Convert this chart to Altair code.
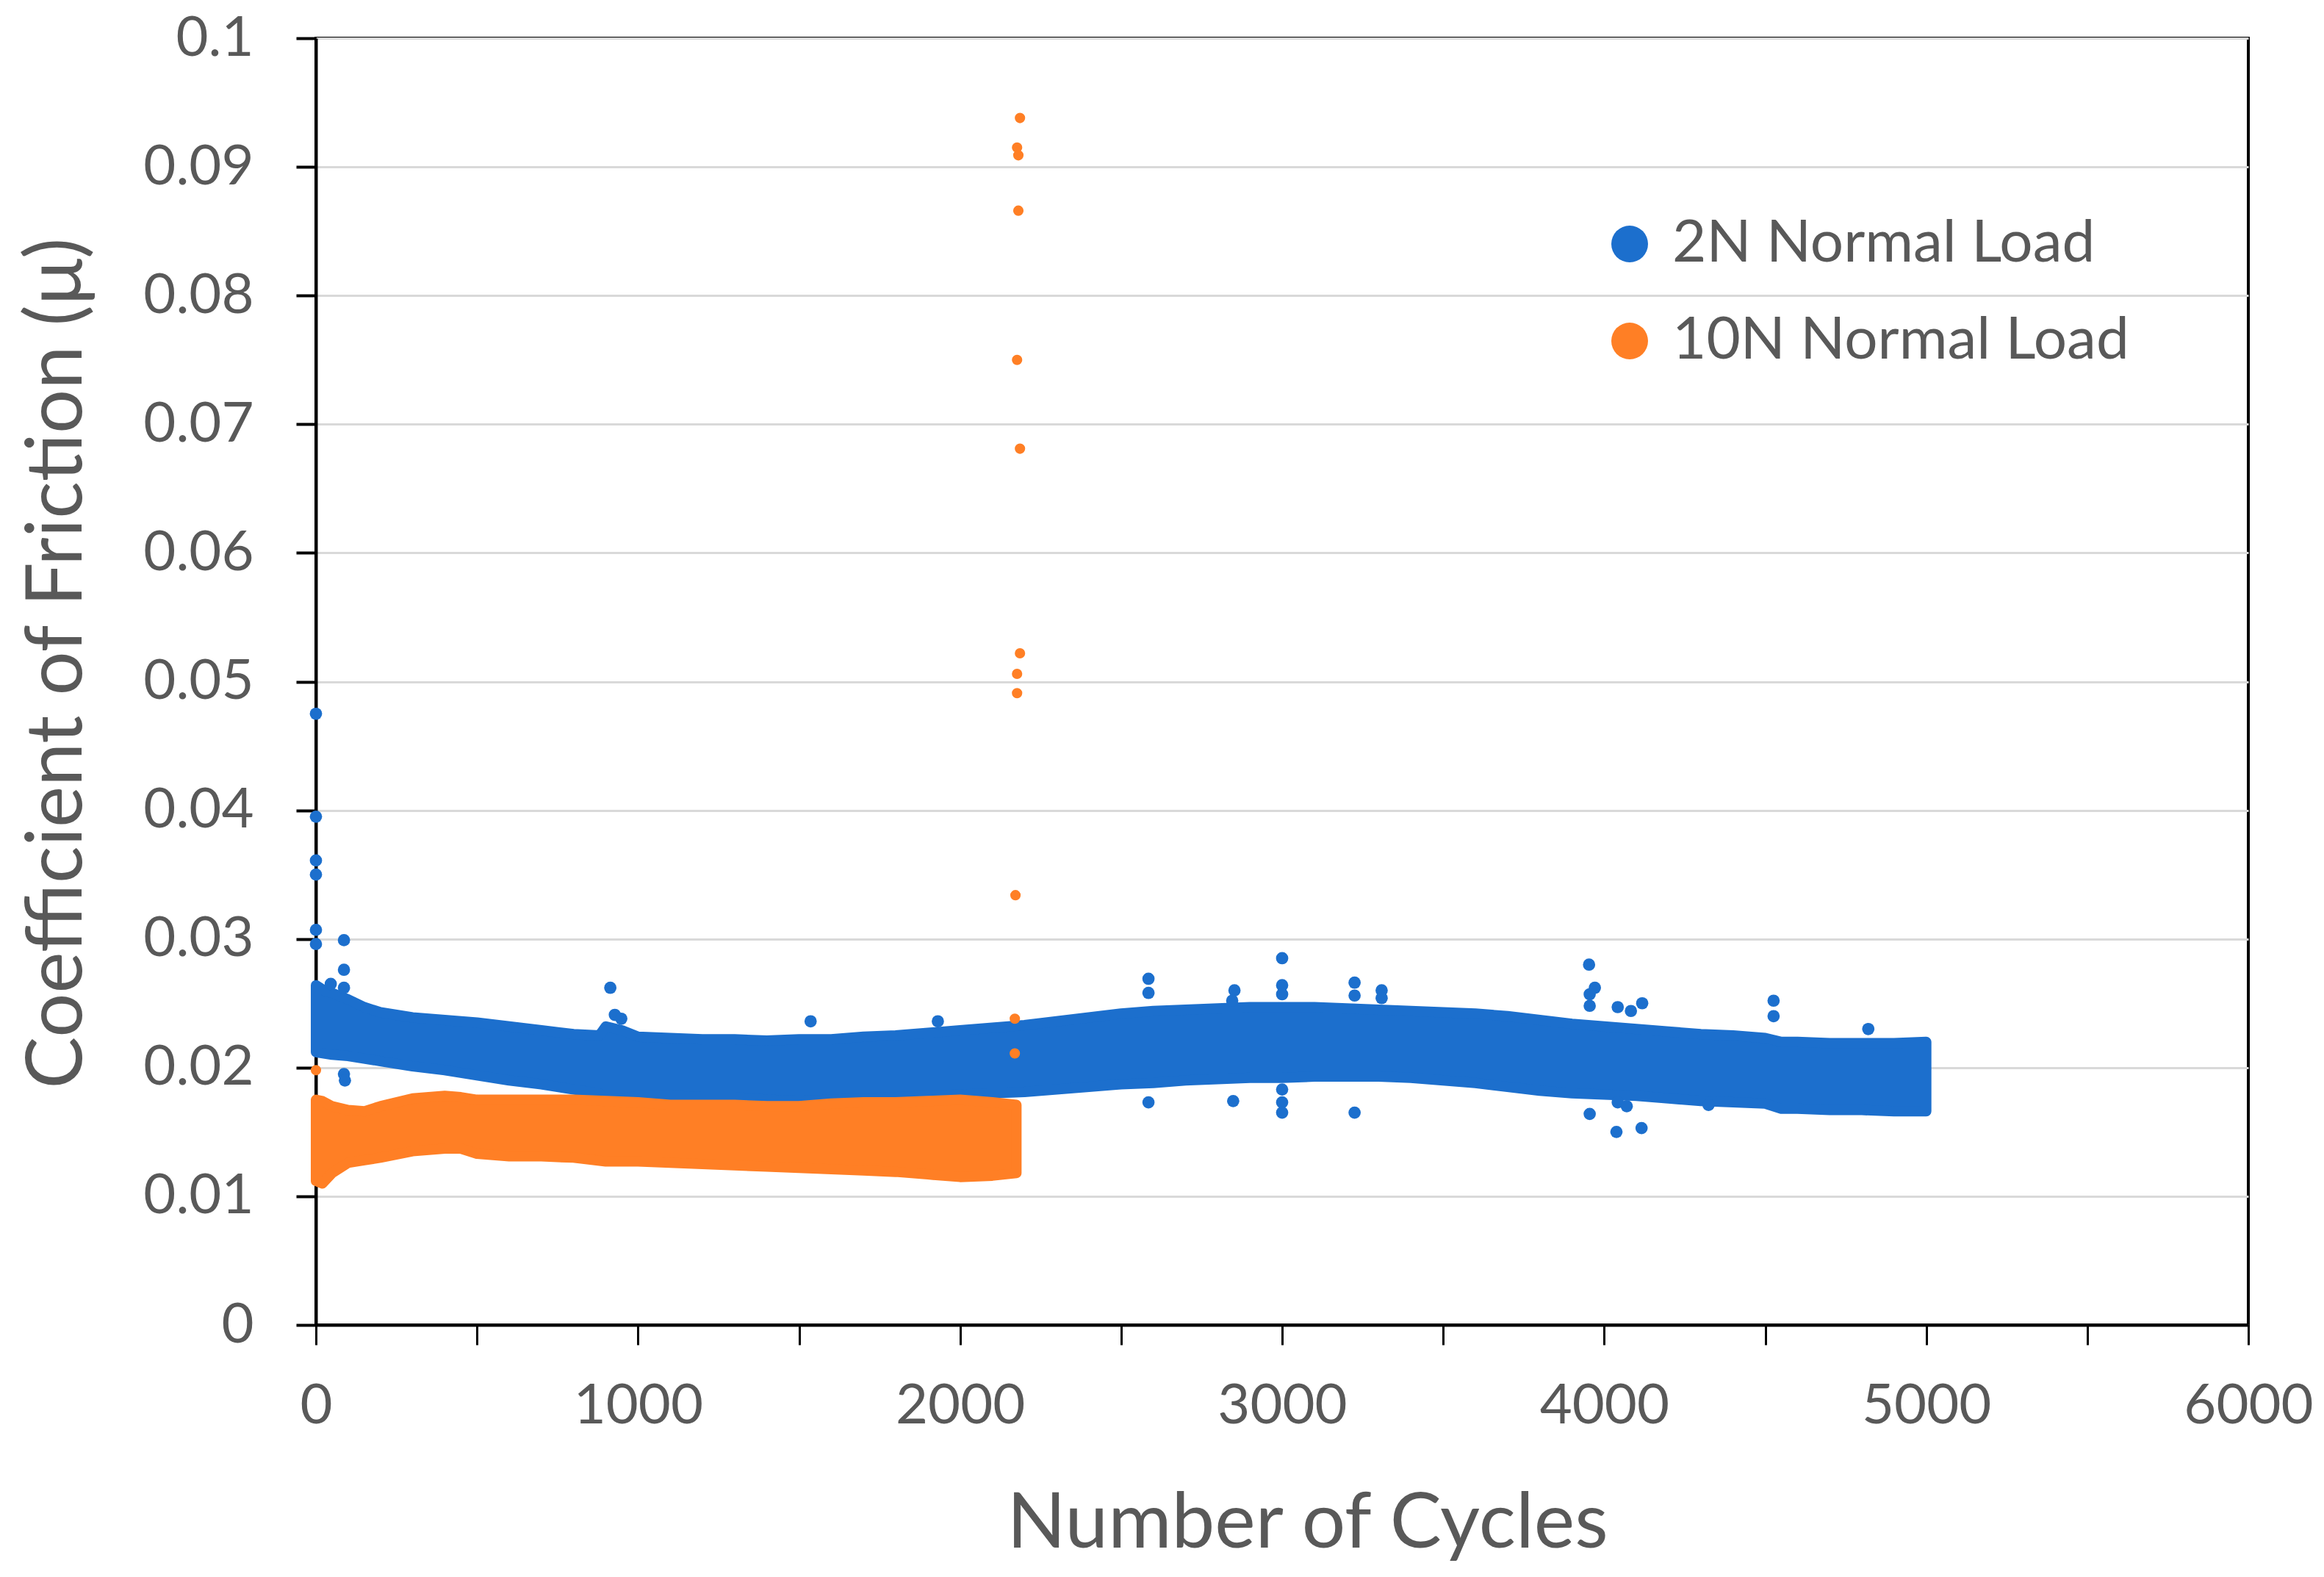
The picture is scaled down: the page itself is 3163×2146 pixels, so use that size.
import altair as alt
import pandas as pd

SERIES = ["2N Normal Load", "10N Normal Load"]
COLORS = ["#1C6FCD", "#FF7F25"]
FONT = "Lato"
GREY = "#595959"

# ---- 2N Normal Load: envelope of the dense scatter band
n2_cycles = [0, 25, 50, 100, 150, 200, 300, 400, 500, 600, 700, 800, 880, 900, 950,
             1000, 1100, 1200, 1300, 1400, 1500, 1600, 1700, 1800, 1900, 2000, 2100,
             2200, 2300, 2400, 2500, 2600, 2700, 2800, 2900, 3000, 3100, 3200, 3300,
             3400, 3500, 3600, 3700, 3800, 3900, 4000, 4100, 4200, 4300, 4400, 4500,
             4550, 4600, 4700, 4800, 4900, 5000]
n2_upper = [0.0264, 0.0260, 0.0258, 0.0253, 0.0247, 0.0243, 0.0239, 0.0237, 0.0235,
            0.0232, 0.0229, 0.0226, 0.0225, 0.0232, 0.0229, 0.0224, 0.0223, 0.0222,
            0.0222, 0.0221, 0.0222, 0.0222, 0.0224, 0.0225, 0.0227, 0.0229, 0.0231,
            0.0233, 0.0236, 0.0239, 0.0242, 0.0244, 0.0245, 0.0246, 0.0247, 0.0247,
            0.0247, 0.0246, 0.0245, 0.0244, 0.0243, 0.0242, 0.0240, 0.0237, 0.0234,
            0.0232, 0.0230, 0.0228, 0.0226, 0.0225, 0.0223, 0.0220, 0.0220, 0.0219,
            0.0219, 0.0219, 0.0220]
n2_lower = [0.0212, 0.0211, 0.0210, 0.0209, 0.0207, 0.0205, 0.0201, 0.0198, 0.0194,
            0.0190, 0.0187, 0.0183, 0.0180, 0.0175, 0.0176, 0.0178, 0.0178, 0.0177,
            0.0177, 0.0175, 0.0174, 0.0175, 0.0176, 0.0177, 0.0178, 0.0179, 0.0180,
            0.0181, 0.0183, 0.0185, 0.0187, 0.0188, 0.0190, 0.0191, 0.0192, 0.0192,
            0.0193, 0.0193, 0.0193, 0.0192, 0.0190, 0.0188, 0.0185, 0.0182, 0.0180,
            0.0179, 0.0178, 0.0176, 0.0174, 0.0173, 0.0172, 0.0168, 0.0168, 0.0167,
            0.0167, 0.0166, 0.0166]

# ---- 10N Normal Load: envelope of the dense scatter band
n10_cycles = [0, 20, 50, 100, 150, 200, 300, 400, 450, 500, 600, 700, 800, 900, 1000,
              1100, 1200, 1300, 1400, 1500, 1600, 1700, 1800, 1900, 2000, 2100, 2175]
n10_upper = [0.0175, 0.0174, 0.0170, 0.0167, 0.0166, 0.0170, 0.0176, 0.0178, 0.0177,
             0.0175, 0.0175, 0.0175, 0.0175, 0.0174, 0.0173, 0.0171, 0.0171, 0.0171,
             0.0170, 0.0170, 0.0172, 0.0173, 0.0173, 0.0174, 0.0175, 0.0173, 0.0171]
n10_lower = [0.0112, 0.0110, 0.0118, 0.0126, 0.0128, 0.0130, 0.0135, 0.0137, 0.0137,
             0.0133, 0.0131, 0.0131, 0.0130, 0.0127, 0.0127, 0.0126, 0.0125, 0.0124,
             0.0123, 0.0122, 0.0121, 0.0120, 0.0119, 0.0117, 0.0115, 0.0116, 0.0118]

# ---- isolated points outside the bands
n2_out_cycles = [0, 0, 0, 0, 0, 0, 46, 87, 87, 87, 87, 90, 914, 928, 948, 1536, 1931,
                 2585, 2585, 2585, 2852, 2845, 2848, 3000, 3000, 3000, 3000, 3000, 3000,
                 3225, 3225, 3225, 3309, 3309, 3953, 3971, 3955, 3955, 3955, 4042, 4083,
                 4118, 4042, 4070, 4038, 4116, 4324, 4526, 4526, 4820]
n2_out_cof = [0.0475, 0.0395, 0.0361, 0.0350, 0.0307, 0.0296, 0.0265, 0.0299, 0.0276,
              0.0262, 0.0195, 0.0190, 0.0262, 0.0241, 0.0238, 0.0236, 0.0236, 0.0269,
              0.0258, 0.0173, 0.0260, 0.0252, 0.0174, 0.0285, 0.0264, 0.0257, 0.0183,
              0.0173, 0.0165, 0.0266, 0.0256, 0.0165, 0.0260, 0.0254, 0.0280, 0.0262,
              0.0257, 0.0248, 0.0164, 0.0247, 0.0244, 0.0250, 0.0173, 0.0170, 0.0150,
              0.0153, 0.0171, 0.0252, 0.0240, 0.0230]
n10_out_cycles = [2186, 2177, 2181, 2181, 2177, 2186, 2186, 2177, 2177, 2172, 2170, 2170, 0]
n10_out_cof = [0.0938, 0.0915, 0.0909, 0.0866, 0.0750, 0.0681, 0.0522, 0.0506, 0.0491,
               0.0334, 0.0238, 0.0211, 0.0198]

X_TICKS = list(range(0, 6001, 500))
Y_TICKS = [round(i * 0.01, 2) for i in range(11)]


def band_df(c, up, lo, s):
    return pd.DataFrame({"cycles": c, "upper": up, "lower": lo, "series": s})


def pts_df(c, v, s):
    return pd.DataFrame({"cycles": c, "cof": v, "series": s})


band2 = band_df(n2_cycles, n2_upper, n2_lower, SERIES[0])
band10 = band_df(n10_cycles, n10_upper, n10_lower, SERIES[1])
pts2 = pts_df(n2_out_cycles, n2_out_cof, SERIES[0])
pts10 = pts_df(n10_out_cycles, n10_out_cof, SERIES[1])

legend = alt.Legend(
    title=None, orient="none", legendX=1748, legendY=240,
    symbolType="circle", symbolSize=2500, symbolStrokeWidth=0,
    labelFont=FONT, labelFontSize=80, labelColor=GREY, labelOffset=18,
    rowPadding=52, labelLimit=1200,
)
color = alt.Color("series:N", scale=alt.Scale(domain=SERIES, range=COLORS), legend=legend)

x_enc = alt.X(
    "cycles:Q",
    scale=alt.Scale(domain=[0, 6000], nice=False, zero=False),
    axis=alt.Axis(
        title="Number of Cycles", values=X_TICKS, format="d",
        labelExpr="datum.value % 1000 == 0 ? datum.label : ''",
        grid=False, domainColor="black", domainWidth=4,
        tickColor="black", tickWidth=3, tickSize=27,
        labelFont=FONT, labelFontSize=76, labelColor=GREY, labelPadding=46,
        labelOverlap=False, labelFlush=False, labelLimit=500,
        titleFont=FONT, titleFontSize=105, titleFontWeight="normal", titleColor=GREY,
        titleX=1349, titleY=270, titleBaseline="middle", titleLimit=2000,
    ),
)
y_axis = alt.Axis(
    title="Coefficient of Friction (μ)", values=Y_TICKS, format="~g",
    grid=True, gridColor="#D9D9D9", gridWidth=3,
    domainColor="black", domainWidth=4,
    tickColor="black", tickWidth=4, tickSize=27,
    labelFont=FONT, labelFontSize=76, labelColor=GREY, labelPadding=58,
    labelOverlap=False, labelFlush=False, labelLimit=500,
    titleFont=FONT, titleFontSize=106, titleFontWeight="normal", titleColor=GREY,
    titleX=-352, titleY=850, titleBaseline="middle", titleLimit=2000,
)
y_scale = alt.Scale(domain=[0, 0.1], nice=False)

area2 = alt.Chart(band2).mark_area(stroke=COLORS[0], strokeWidth=14, strokeJoin="round", opacity=1).encode(
    x=x_enc, y=alt.Y("upper:Q", scale=y_scale, axis=y_axis), y2="lower:Q", color=color)
dots2 = alt.Chart(pts2).mark_circle(size=280, opacity=1).encode(
    x=x_enc, y=alt.Y("cof:Q", scale=y_scale, axis=y_axis), color=color)
area10 = alt.Chart(band10).mark_area(stroke=COLORS[1], strokeWidth=14, strokeJoin="round", opacity=1).encode(
    x=x_enc, y=alt.Y("upper:Q", scale=y_scale, axis=y_axis), y2="lower:Q", color=color)
dots10 = alt.Chart(pts10).mark_circle(size=200, opacity=1).encode(
    x=x_enc, y=alt.Y("cof:Q", scale=y_scale, axis=y_axis), color=color)

chart = alt.layer(area2, dots2, area10, dots10).properties(
    width=2630, height=1751,
    autosize=alt.AutoSizeParams(type="none"),
    padding={"left": 422, "top": 44, "right": 95, "bottom": 335},
).configure(
    background="white",
    view=alt.ViewConfig(stroke="black", strokeWidth=4),
)

chart.save("out.html", embed_options={"renderer": "svg", "actions": False})
